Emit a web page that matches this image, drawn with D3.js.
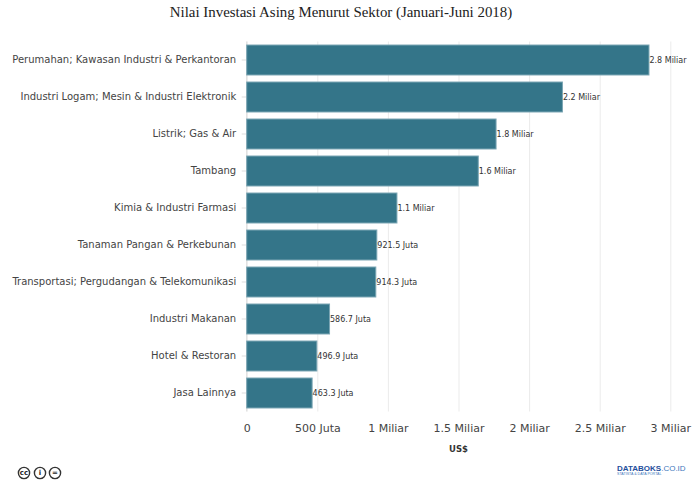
<!DOCTYPE html>
<html>
<head>
<meta charset="utf-8">
<script src="https://cdn.jsdelivr.net/npm/d3@7"></script>
<style>
  html, body { margin: 0; padding: 0; background: #fff; }
  svg { display: block; }
  text { font-family: "DejaVu Sans", sans-serif; }
</style>
</head>
<body>
<svg id="chart" width="700" height="494"></svg>
<script>
const sectors = [
   "Perumahan; Kawasan Industri & Perkantoran",
   "Industri Logam; Mesin & Industri Elektronik",
   "Listrik; Gas & Air",
   "Tambang",
   "Kimia & Industri Farmasi",
   "Tanaman Pangan & Perkebunan",
   "Transportasi; Pergudangan & Telekomunikasi",
   "Industri Makanan",
   "Hotel & Restoran",
   "Jasa Lainnya"
];
const values = [2849, 2236, 1766, 1640, 1064, 921.5, 914.3, 586.7, 496.9, 463.3];
const valueLabels = ["2.8 Miliar", "2.2 Miliar", "1.8 Miliar", "1.6 Miliar", "1.1 Miliar",
   "921.5 Juta", "914.3 Juta", "586.7 Juta", "496.9 Juta", "463.3 Juta"];
const xTicks = [0, 500, 1000, 1500, 2000, 2500, 3000];
const xTickLabels = ["0", "500 Juta", "1 Miliar", "1.5 Miliar", "2 Miliar", "2.5 Miliar", "3 Miliar"];

const PLOT_LEFT = 246.7;
const PLOT_RIGHT = 670.3;
const PLOT_TOP = 41.5;
const PLOT_BOTTOM = 411.5;
const BAR_COLOR = "#347589";
const BAR_STROKE = "#7aa5b3";

const svg = d3.select("#chart");

const xScale = d3.scaleLinear().domain([0, 3000]).range([PLOT_LEFT, PLOT_RIGHT]);
const yScale = d3.scaleBand().domain(sectors).range([PLOT_TOP, PLOT_BOTTOM]).paddingInner(0.19).paddingOuter(0.095);

svg.append("text")
   .attr("x", 341)
   .attr("y", 17)
   .attr("text-anchor", "middle")
   .style("font-family", "'Liberation Serif', serif")
   .style("font-size", "14.9px")
   .attr("fill", "#222")
   .text("Nilai Investasi Asing Menurut Sektor (Januari-Juni 2018)");

// gridlines + x axis
const gx = svg.append("g")
   .attr("transform", `translate(0,${PLOT_BOTTOM})`)
   .call(d3.axisBottom(xScale)
      .tickValues(xTicks)
      .tickSize(-(PLOT_BOTTOM - PLOT_TOP))
      .tickPadding(13)
      .tickFormat((d, i) => xTickLabels[i]));
gx.select(".domain").remove();
gx.selectAll("line").attr("stroke", "#ebebeb");
gx.selectAll("text").attr("fill", "#444").style("font-size", "11px");

// y axis
const gy = svg.append("g")
   .attr("transform", `translate(${PLOT_LEFT},0)`)
   .call(d3.axisLeft(yScale).tickSize(5).tickPadding(5.5));
gy.select(".domain").remove();
gy.selectAll("line").attr("stroke", "#ddd");
gy.selectAll("text").attr("fill", "#444").style("font-size", "10px");

svg.append("line")
   .attr("x1", PLOT_LEFT).attr("x2", PLOT_LEFT)
   .attr("y1", PLOT_TOP).attr("y2", PLOT_BOTTOM)
   .attr("stroke", "#ddd");

svg.selectAll("rect.bar")
   .data(values)
   .enter()
   .append("rect")
   .attr("class", "bar")
   .attr("x", xScale(0))
   .attr("y", (_, i) => yScale(sectors[i]))
   .attr("width", d => xScale(d) - xScale(0))
   .attr("height", yScale.bandwidth())
   .attr("fill", BAR_COLOR)
   .attr("stroke", BAR_STROKE);

svg.selectAll("text.value")
   .data(values)
   .enter()
   .append("text")
   .attr("class", "value")
   .attr("x", d => xScale(d) + 0.5)
   .attr("y", (_, i) => yScale(sectors[i]) + yScale.bandwidth() / 2 + 3)
   .attr("fill", "#333")
   .style("font-size", "8px")
   .text((_, i) => valueLabels[i]);

svg.append("text")
   .attr("x", 458.5)
   .attr("y", 452)
   .attr("text-anchor", "middle")
   .attr("fill", "#333")
   .style("font-size", "8.5px")
   .style("font-weight", "bold")
   .text("US$");

// licence badges
const badges = [["cc", 24], ["i", 40], ["=", 55]];
const badge = svg.selectAll("g.badge")
   .data(badges)
   .enter()
   .append("g")
   .attr("class", "badge")
   .attr("transform", d => `translate(${d[1]},473)`);
badge.append("circle").attr("r", 5.6).attr("fill", "#fff").attr("stroke", "#333").attr("stroke-width", 1.4);
badge.append("text")
   .attr("text-anchor", "middle")
   .attr("y", 2.4)
   .attr("fill", "#222")
   .style("font-size", "7px")
   .style("font-weight", "bold")
   .text(d => d[0]);

// logo
const logo = svg.append("text").attr("x", 617).attr("y", 471).style("font-size", "8px").style("font-family", "'Liberation Sans', sans-serif");
logo.append("tspan").attr("fill", "#1f4f9c").style("font-weight", "bold").text("DATABOKS");
logo.append("tspan").attr("fill", "#3f78bd").text(".CO.ID");
svg.append("text")
   .attr("x", 617).attr("y", 475)
   .attr("fill", "#3f78bd")
   .style("font-size", "3.6px")
   .style("font-family", "'Liberation Sans', sans-serif")
   .text("STATISTA & DATA PORTAL");
</script>
</body>
</html>
